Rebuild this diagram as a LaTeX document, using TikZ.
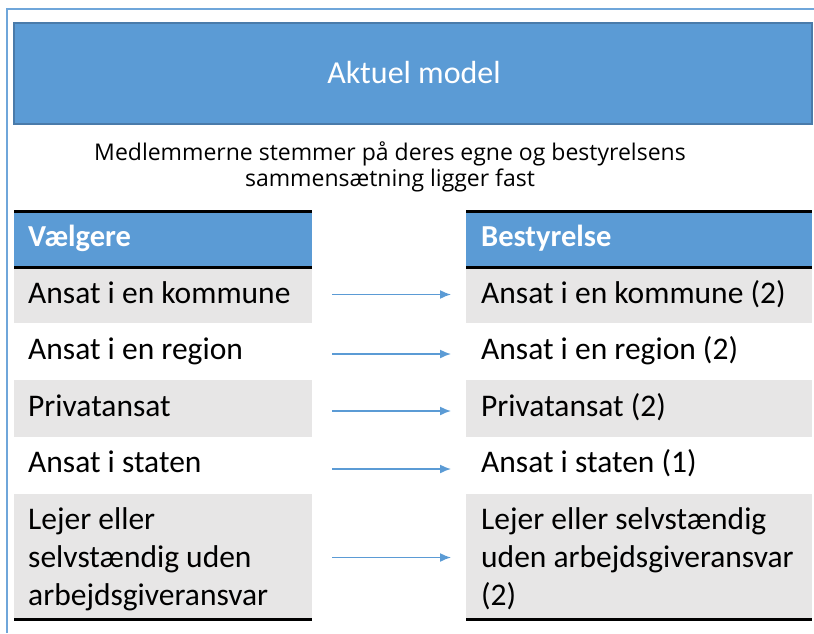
\documentclass[tikz,border=0pt]{standalone}
\usepackage{fontspec}
\setmainfont{Carlito}
\newfontfamily\subfont{Open Sans}
\usetikzlibrary{arrows.meta}
\definecolor{hdrblue}{HTML}{5B9BD5}
\definecolor{framblue}{HTML}{6FA6DA}
\definecolor{titleedge}{HTML}{4A7BAA}
\definecolor{rowgray}{HTML}{E7E6E6}
\tikzset{
  cellbox/.style={rectangle, anchor=north west, inner sep=0pt, outer sep=0pt, draw=none},
  hdrcell/.style={cellbox, fill=hdrblue},
  graycell/.style={cellbox, fill=rowgray},
  whitecell/.style={cellbox, fill=white},
  celltext/.style={anchor=base west, inner sep=0pt, font=\fontsize{31.5}{38}\selectfont, align=left},
  hdrtext/.style={celltext, font=\fontsize{30.5}{38}\selectfont\bfseries, text=white},
  tblline/.style={line width=3pt, black},
  flowarrow/.style={draw=hdrblue, line width=1.5pt, -{Latex[length=11pt,width=9pt]}, shorten <=20pt, shorten >=15pt},
  framestyle/.style={draw=framblue, line width=2pt}
}
\begin{document}
\begin{tikzpicture}[x=1pt,y=-1pt]
\useasboundingbox (0,0) rectangle (814,633);
% outer frame
\draw[framestyle] (7,633) -- (7,9) -- (814,9);
% title
\node[cellbox, fill=hdrblue, draw=titleedge, line width=1.2pt, minimum width=798pt, minimum height=101pt] (title) at (14,23) {};
\node[text=white, inner sep=0pt, anchor=base, font=\fontsize{32}{38}\selectfont] (titletext) at (414,83) {Aktuel model};
% subtitle (base = last line)
\node[anchor=base, inner sep=0pt, align=center, font=\subfont\fontsize{23}{25.5}\selectfont] (sub) at (390,186) {Medlemmerne stemmer på deres egne og bestyrelsens\\sammensætning ligger fast};
% left table
\node[hdrcell, minimum width=298pt, minimum height=53pt] (l0) at (14,213) {};
\node[graycell, minimum width=298pt, minimum height=54pt] (l1) at (14,269) {};
\node[whitecell, minimum width=298pt, minimum height=57pt] (l2) at (14,323) {};
\node[graycell, minimum width=298pt, minimum height=57pt] (l3) at (14,380) {};
\node[whitecell, minimum width=298pt, minimum height=57pt] (l4) at (14,437) {};
\node[graycell, minimum width=298pt, minimum height=124pt] (l5) at (14,494) {};
% right table
\node[hdrcell, minimum width=346pt, minimum height=53pt] (r0) at (466,213) {};
\node[graycell, minimum width=346pt, minimum height=54pt] (r1) at (466,269) {};
\node[whitecell, minimum width=346pt, minimum height=57pt] (r2) at (466,323) {};
\node[graycell, minimum width=346pt, minimum height=57pt] (r3) at (466,380) {};
\node[whitecell, minimum width=346pt, minimum height=57pt] (r4) at (466,437) {};
\node[graycell, minimum width=346pt, minimum height=124pt] (r5) at (466,494) {};
% table rules
\foreach \t in {l,r} {
  \draw[tblline] ([yshift=1.5pt]\t0.north west) -- ([yshift=1.5pt]\t0.north east);
  \draw[tblline] ([yshift=-1.5pt]\t0.south west) -- ([yshift=-1.5pt]\t0.south east);
  \draw[tblline] ([yshift=-1.5pt]\t5.south west) -- ([yshift=-1.5pt]\t5.south east);
}
% texts
\node[hdrtext] (lt0) at (28,246) {Vælgere};
\node[hdrtext] (rt0) at (481,246) {Bestyrelse};
\node[celltext] (lt1) at (28,303) {Ansat i en kommune};
\node[celltext] (lt2) at (28,359) {Ansat i en region};
\node[celltext] (lt3) at (28,416) {Privatansat};
\node[celltext] (lt4) at (28,472) {Ansat i staten};
\node[celltext] (lt5) at (28,605) {Lejer eller\\selvstændig uden\\arbejdsgiveransvar};
\node[celltext] (rt1) at (481,303) {Ansat i en kommune (2)};
\node[celltext] (rt2) at (481,359) {Ansat i en region (2)};
\node[celltext] (rt3) at (481,416) {Privatansat (2)};
\node[celltext] (rt4) at (481,472) {Ansat i staten (1)};
\node[celltext] (rt5) at (481,605) {Lejer eller selvstændig\\uden arbejdsgiveransvar\\(2)};
% arrows
\draw[flowarrow] ([yshift=1.5pt]l1.east) -- ([yshift=1.5pt]r1.west);
\draw[flowarrow] ([yshift=-2.5pt]l2.east) -- ([yshift=-2.5pt]r2.west);
\draw[flowarrow] ([yshift=-2.5pt]l3.east) -- ([yshift=-2.5pt]r3.west);
\draw[flowarrow] ([yshift=-3.5pt]l4.east) -- ([yshift=-3.5pt]r4.west);
\draw[flowarrow] ([yshift=-1.5pt]l5.east) -- ([yshift=-1.5pt]r5.west);
\end{tikzpicture}
\end{document}
